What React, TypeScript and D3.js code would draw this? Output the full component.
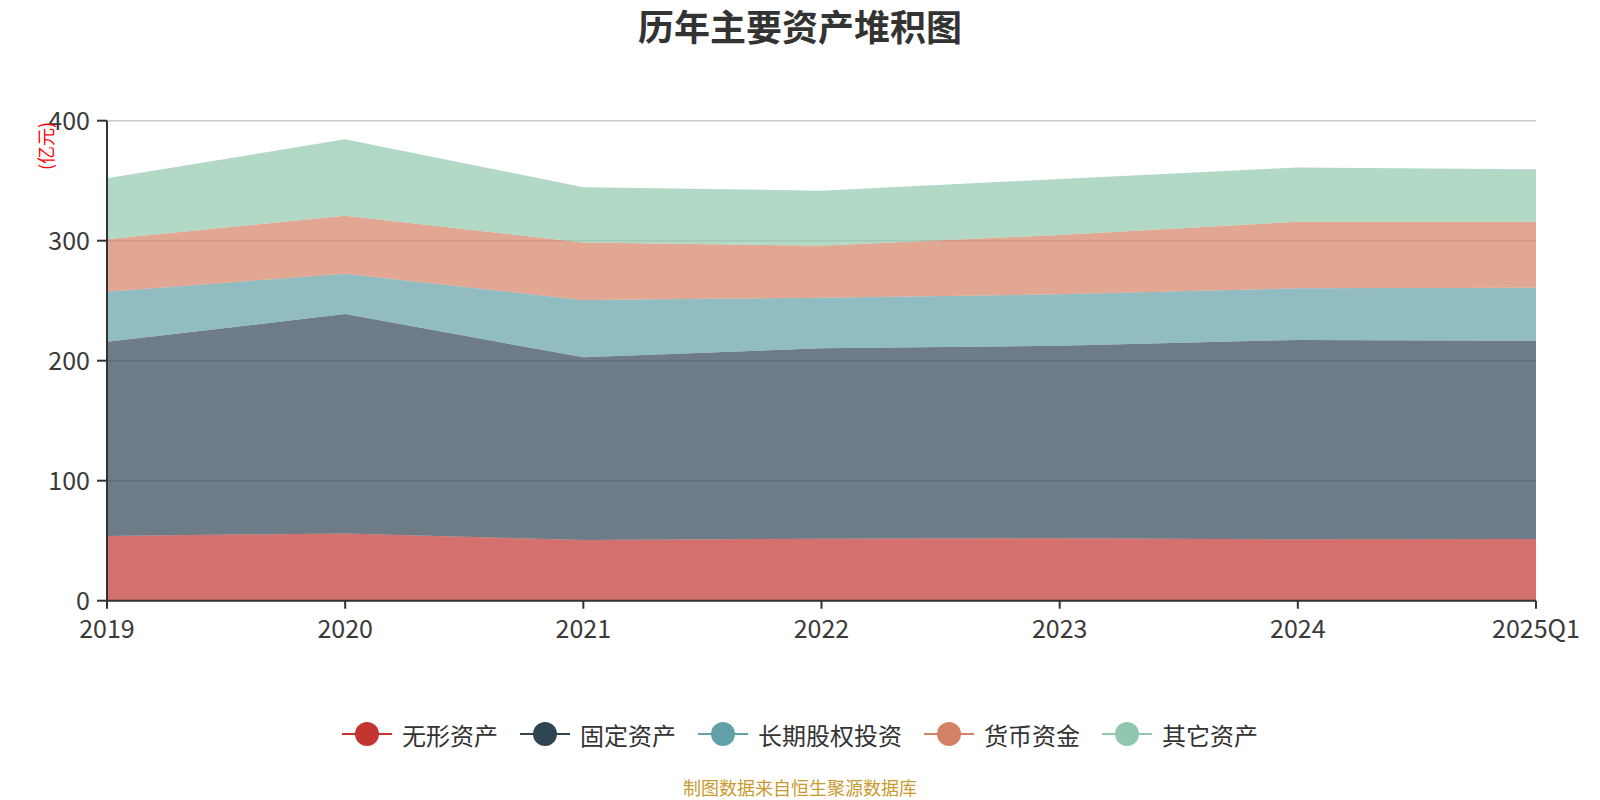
import * as d3 from "d3"
import React from "react"

const categories = ["2019", "2020", "2021", "2022", "2023", "2024", "2025Q1"]
const seriesNames = ["无形资产", "固定资产", "长期股权投资", "货币资金", "其它资产"]
const intangible = [53.9, 56.1, 50.6, 51.7, 52.0, 51.2, 51.4]
const fixedAssets = [161.9, 182.8, 152.2, 158.6, 160.5, 166.1, 165.3]
const equityInvest = [41.7, 33.6, 47.8, 42.2, 42.8, 43.0, 44.1]
const cash = [43.7, 48.3, 47.8, 43.3, 49.5, 55.5, 55.0]
const others = [50.8, 63.7, 46.1, 45.9, 46.6, 45.3, 43.7]
const yTicks = [0, 100, 200, 300, 400]
const colors = ["#c23531", "#2f4554", "#61a0a8", "#d48265", "#91c7ae"]

const font = "'Noto Sans CJK SC', 'Noto Sans', sans-serif"

const width = 1600,
  height = 800
const left = 107,
  right = 1536,
  top = 120.7,
  bottom = 600.7

export default function App() {
  const values = [intangible, fixedAssets, equityInvest, cash, others]
  const rows = categories.map((c, i) => {
    const r: any = { cat: c }
    seriesNames.forEach((n, j) => (r[n] = values[j][i]))
    return r
  })
  const stacked = d3.stack().keys(seriesNames)(rows)

  const x = d3.scalePoint().domain(categories).range([left, right]).padding(0)
  const y = d3.scaleLinear().domain([0, 400]).range([bottom, top])

  const area = d3
    .area<any>()
    .x((d) => x(d.data.cat))
    .y0((d) => y(d[0]))
    .y1((d) => y(d[1]))

  // legend layout: icon 50, gap 10, text, gap 22
  const fs = 24
  const textW = seriesNames.map((n) => n.length * fs)
  const total =
    seriesNames.length * 60 + d3.sum(textW) + (seriesNames.length - 1) * 22
  let lx = width / 2 - total / 2
  const legendItems = seriesNames.map((n, i) => {
    const item = { name: n, x: lx, color: colors[i] }
    lx += 60 + textW[i] + 22
    return item
  })

  return (
    <svg
      width={width}
      height={height}
      style={{ position: "absolute", left: 0, top: 0, background: "#fff" }}
      fontFamily={font}
    >
      <text
        x={800}
        y={25}
        textAnchor="middle"
        dominantBaseline="central"
        fontSize={36}
        fontWeight="bold"
        fill="#333"
      >
        历年主要资产堆积图
      </text>

      {/* grid */}
      {yTicks.map((t) => (
        <line
          key={t}
          x1={left}
          x2={right}
          y1={y(t)}
          y2={y(t)}
          stroke="#ccc"
          strokeWidth={1.5}
        />
      ))}

      {stacked.map((s, i) => (
        <path key={s.key} d={area(s)} fill={colors[i]} fillOpacity={0.7} />
      ))}

      {/* y axis */}
      <line x1={left} x2={left} y1={top} y2={bottom} stroke="#333" strokeWidth={2} />
      {yTicks.map((t) => (
        <g key={t}>
          <line x1={left - 10} x2={left} y1={y(t)} y2={y(t)} stroke="#333" strokeWidth={2} />
          <text
            x={90}
            y={y(t) - 2}
            textAnchor="end"
            dominantBaseline="central"
            fontSize={25}
            fill="#3a3a3a"
          >
            {t}
          </text>
        </g>
      ))}
      <text
        transform={`translate(45,146) rotate(-90)`}
        textAnchor="middle"
        dominantBaseline="central"
        fontSize={18}
        fill="#ff0000"
      >
        (亿元)
      </text>

      {/* x axis */}
      <line x1={left} x2={right} y1={bottom} y2={bottom} stroke="#333" strokeWidth={2} />
      {categories.map((c) => (
        <g key={c}>
          <line x1={x(c)} x2={x(c)} y1={bottom} y2={bottom + 8} stroke="#333" strokeWidth={2} />
          <text
            x={x(c)}
            y={627}
            textAnchor="middle"
            dominantBaseline="central"
            fontSize={25}
            fill="#3a3a3a"
          >
            {c}
          </text>
        </g>
      ))}

      {/* legend */}
      {legendItems.map((it) => (
        <g key={it.name} transform={`translate(${it.x},734)`}>
          <line x1={0} x2={50} y1={0} y2={0} stroke={it.color} strokeWidth={2} />
          <circle cx={25} cy={0} r={12} fill={it.color} />
          <text x={60} y={0} dominantBaseline="central" fontSize={fs} fill="#333">
            {it.name}
          </text>
        </g>
      ))}

      <text
        x={800}
        y={787}
        textAnchor="middle"
        dominantBaseline="central"
        fontSize={18}
        fill="#c99a2e"
      >
        制图数据来自恒生聚源数据库
      </text>
    </svg>
  )
}
